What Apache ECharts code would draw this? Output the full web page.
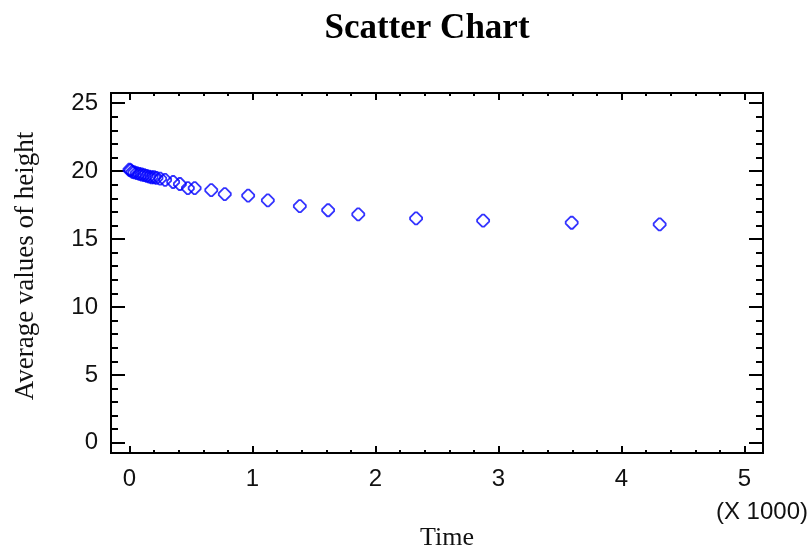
<!DOCTYPE html>
<html>
<head>
<meta charset="utf-8">
<script src="https://cdn.jsdelivr.net/npm/echarts@6/dist/echarts.min.js"></script>
<style>
  html, body { margin: 0; padding: 0; background: #fff; }
  #main { width: 812px; height: 549px; }
</style>
</head>
<body>
<div id="main"></div>
<script>
// data
var timeValues = [0, 10, 25, 40, 60, 80, 100, 120, 140, 160, 180, 200, 220, 250,
  290, 355, 410, 475, 530, 665, 775, 965, 1125, 1385, 1615, 1860, 2330, 2875, 3595, 4310]
var heightValues = [20.1, 20.05, 19.95, 19.9, 19.85, 19.8, 19.75, 19.7, 19.65, 19.6, 19.55, 19.55, 19.5, 19.45,
  19.35, 19.2, 19.05, 18.75, 18.75, 18.6, 18.3, 18.2, 17.85, 17.42, 17.12, 16.82, 16.52, 16.35, 16.2, 16.08]

var xMajorTicks = [0, 1000, 2000, 3000, 4000, 5000]
var xMinorTicks = [200, 400, 600, 800, 1200, 1400, 1600, 1800, 2200, 2400, 2600, 2800,
  3200, 3400, 3600, 3800, 4200, 4400, 4600, 4800, 5000, 5200]
var yMajorTicks = [0, 5, 10, 15, 20, 25]
var yMinorTicks = [1, 2, 3, 4, 6, 7, 8, 9, 11, 12, 13, 14, 16, 17, 18, 19, 21, 22, 23, 24]

var xMin = -150, xMax = 5150
var yMin = -0.75, yMax = 25.75

var points = []
for (var i = 0; i < timeValues.length; i++) {
  points.push([timeValues[i], heightValues[i]])
}

var lineStyle = { color: '#000', width: 2 }

function xAx(pos, ticks, len, labels) {
  return {
    type: 'value', position: pos, min: xMin, max: xMax,
    axisLine: { show: true, onZero: false, lineStyle: lineStyle },
    axisTick: { show: true, inside: true, length: len, customValues: ticks, lineStyle: lineStyle },
    axisLabel: labels ? {
      show: true, customValues: ticks, margin: 14,
      fontFamily: 'Liberation Sans', fontSize: 24, color: '#111',
      formatter: function (v) { return v / 1000 }
    } : { show: false },
    splitLine: { show: false }
  }
}
function yAx(pos, ticks, len, labels) {
  return {
    type: 'value', position: pos, min: yMin, max: yMax,
    axisLine: { show: true, onZero: false, lineStyle: lineStyle },
    axisTick: { show: true, inside: true, length: len, customValues: ticks, lineStyle: lineStyle },
    axisLabel: labels ? {
      show: true, customValues: ticks, margin: 13,
      fontFamily: 'Liberation Sans', fontSize: 24, color: '#111'
    } : { show: false },
    splitLine: { show: false }
  }
}

var option = {
  animation: false,
  backgroundColor: '#fff',
  grid: { left: 111, right: 49, top: 93, bottom: 96, outerBoundsMode: 'none' },
  xAxis: [
    xAx('bottom', xMajorTicks, 7, true),
    xAx('bottom', xMinorTicks, 3, false),
    xAx('top', xMajorTicks, 7, false),
    xAx('top', xMinorTicks, 3, false)
  ],
  yAxis: [
    yAx('left', yMajorTicks, 14, true),
    yAx('left', yMinorTicks, 7, false),
    yAx('right', yMajorTicks, 14, false),
    yAx('right', yMinorTicks, 7, false)
  ],
  graphic: [
    { type: 'text', x: 427, y: 29, style: { text: 'Scatter Chart', fontFamily: 'Liberation Serif', fontWeight: 'bold', fontSize: 35, fill: '#000', align: 'center', verticalAlign: 'middle' } },
    { type: 'text', x: 447, y: 538, style: { text: 'Time', fontFamily: 'Liberation Serif', fontSize: 26, fill: '#111', align: 'center', verticalAlign: 'middle' } },
    { type: 'text', x: 808, y: 512, style: { text: '(X 1000)', fontFamily: 'Liberation Sans', fontSize: 24, fill: '#111', align: 'right', verticalAlign: 'middle' } },
    { type: 'text', x: 26, y: 266, rotation: Math.PI / 2, style: { text: 'Average values of height', fontFamily: 'Liberation Serif', fontSize: 27, fill: '#111', align: 'center', verticalAlign: 'middle' } }
  ],
  series: [
    {
      type: 'scatter',
      xAxisIndex: 0,
      yAxisIndex: 0,
      // rounded diamond like the original marker
      symbol: 'path://M5,0 L7,0 L12,5 L12,7 L7,12 L5,12 L0,7 L0,5 Z',
      symbolSize: 12,
      itemStyle: { color: 'rgba(0,0,0,0)', borderColor: '#0000ff', borderWidth: 1.8 },
      data: points
    }
  ]
}

var myChart = echarts.init(document.getElementById('main'))
myChart.setOption(option)
</script>
</body>
</html>
